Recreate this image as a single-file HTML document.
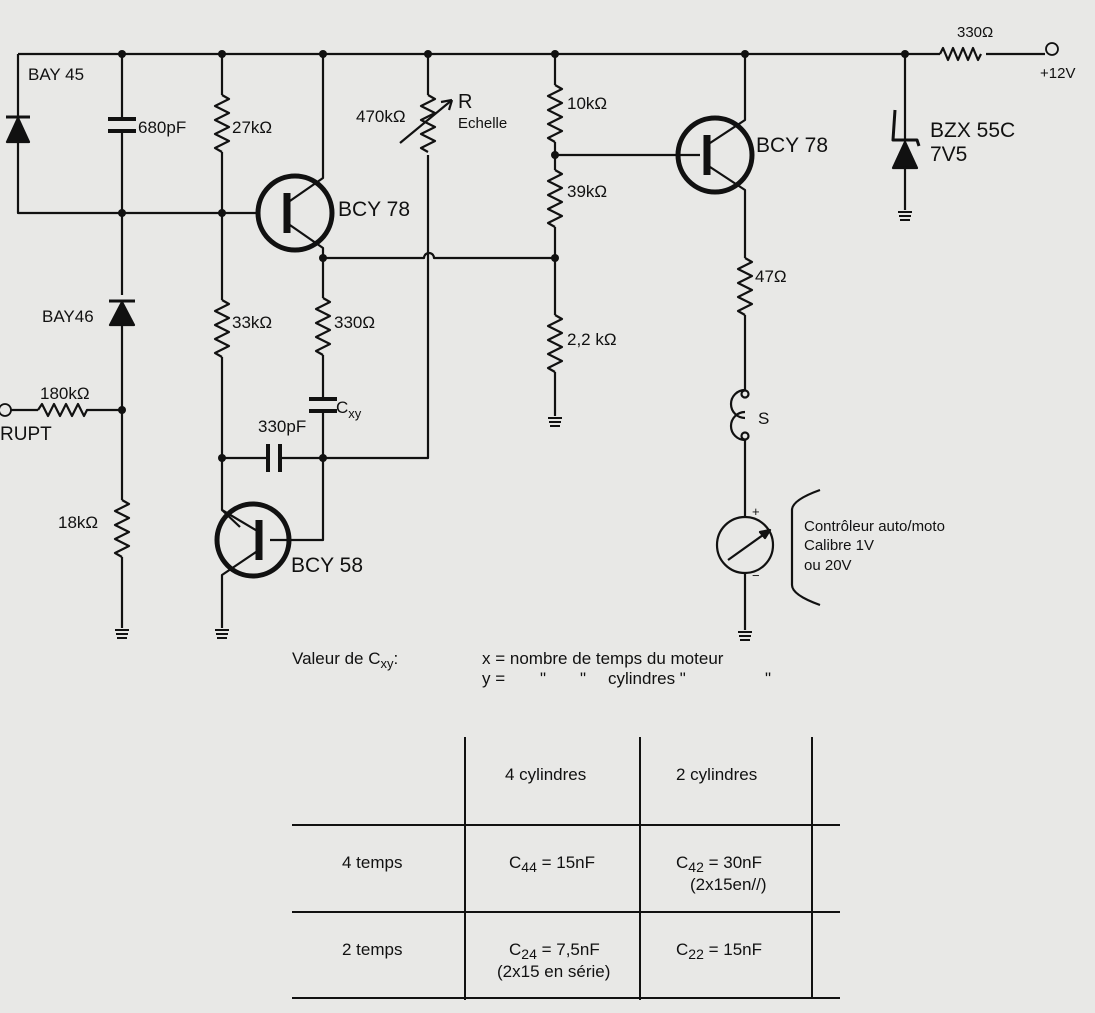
<!DOCTYPE html>
<html><head><meta charset="utf-8"><style>
html,body{margin:0;padding:0;background:#e8e8e6;}
svg{display:block}
text{font-family:"Liberation Sans",sans-serif;fill:#111;}
</style></head><body>
<svg width="1095" height="1013" viewBox="0 0 1095 1013" xmlns="http://www.w3.org/2000/svg">
<rect width="1095" height="1013" fill="#e8e8e6"/>
<g stroke="#111" stroke-width="2.2" fill="none" stroke-linejoin="round">
<path d="M18 54 H940"/>
<path d="M940 54 l3 -6 l5 12 l5 -12 l5 12 l5 -12 l5 12 l5 -12 l5 12 l3 -6"/>
<path d="M986 54 H1045"/>
<circle cx="1052" cy="49" r="6" stroke-width="1.8"/>
<path d="M18 54 V213 H258"/>
<path d="M7 142 H29 L18 118 Z" fill="#111"/><path d="M6 117 H30" stroke-width="3"/>
<path d="M122 54 V119 M122 131 V295"/>
<path d="M108 119 H136 M108 131 H136" stroke-width="4"/>
<path d="M110 325 H134 L122 302 Z" fill="#111"/><path d="M109 301 H135" stroke-width="3"/>
<path d="M122 325 V500"/>
<path d="M122 500 l7 4 l-14 7 l14 7 l-14 7 l14 7 l-14 7 l14 7 l-14 7 l7 4"/>
<path d="M122 557 V628"/>
<path d="M11 410 H38"/>
<circle cx="5" cy="410" r="6" stroke-width="1.8"/>
<path d="M38 410 l4 -6 l6 12 l6 -12 l6 12 l6 -12 l6 12 l6 -12 l6 12 l3 -6 H122"/>
<path d="M222 54 V95"/>
<path d="M222 95 l7 4 l-14 7 l14 7 l-14 7 l14 7 l-14 7 l14 7 l-14 7 l7 4"/>
<path d="M222 152 V300"/>
<path d="M222 300 l7 4 l-14 7 l14 7 l-14 7 l14 7 l-14 7 l14 7 l-14 7 l7 4"/>
<path d="M222 357 V458 H268 M280 458 H428 V155"/>
<path d="M268 444 V472 M280 444 V472" stroke-width="4"/>
<path d="M222 458 V510 L240 527"/>
<circle cx="295" cy="213" r="37" stroke-width="5"/>
<path d="M287 193 V233" stroke-width="7"/>
<path d="M287 203 L323 178 V54 M287 223 L323 248 V258"/>
<path d="M323 258 H424 a5 5 0 0 1 10 0 H555"/>
<path d="M323 258 V298"/>
<path d="M323 298 l7 4 l-14 7 l14 7 l-14 7 l14 7 l-14 7 l14 7 l-14 7 l7 4"/>
<path d="M323 355 V399 M323 411 V540 H270"/>
<path d="M309 399 H337 M309 411 H337" stroke-width="4"/>
<circle cx="253" cy="540" r="36" stroke-width="5"/>
<path d="M259 520 V560" stroke-width="7"/>
<path d="M222 510 L259 532 M259 550 L222 575 V628"/>
<path d="M428 54 V95"/>
<path d="M428 95 l7 4 l-14 7 l14 7 l-14 7 l14 7 l-14 7 l14 7 l-14 7 l7 4"/>
<path d="M400 143 L452 100"/>
<path d="M452 100 l-11 2 M452 100 l-3 10"/>
<path d="M555 54 V85"/>
<path d="M555 85 l7 4 l-14 7 l14 7 l-14 7 l14 7 l-14 7 l14 7 l-14 7 l7 4"/>
<path d="M555 142 V170"/>
<path d="M555 170 l7 4 l-14 7 l14 7 l-14 7 l14 7 l-14 7 l14 7 l-14 7 l7 4"/>
<path d="M555 227 V315"/>
<path d="M555 315 l7 4 l-14 7 l14 7 l-14 7 l14 7 l-14 7 l14 7 l-14 7 l7 4"/>
<path d="M555 372 V416"/>
<path d="M555 155 H700"/>
<circle cx="715" cy="155" r="37" stroke-width="5"/>
<path d="M707 135 V175" stroke-width="7"/>
<path d="M707 145 L745 120 V54 M707 165 L745 190 V258"/>
<path d="M745 258 l7 4 l-14 7 l14 7 l-14 7 l14 7 l-14 7 l14 7 l-14 7 l7 4"/>
<path d="M745 315 V390"/>
<path d="M745 390 a7 7 0 0 0 0 28 M745 412 a7 7 0 0 0 0 28"/>
<circle cx="745" cy="394" r="3.5" fill="#e8e8e6"/><circle cx="745" cy="436" r="3.5" fill="#e8e8e6"/>
<path d="M745 440 V517 M745 573 V630"/>
<circle cx="745" cy="545" r="28"/>
<path d="M728 560 L770 530"/><path d="M770 530 l-10 2 l5 6 Z" fill="#111"/>
<path d="M820 490 Q792 500 792 510 V585 Q792 595 820 605"/>
<path d="M905 54 V105 M905 168 V210"/>
<path d="M893 168 H917 L905 142 Z" fill="#111"/><path d="M895 110 L893 140 H917 L919 146" stroke-width="3"/>
<path d="M905 140 V105"/>
<g stroke-width="2"><path d="M115 630 H129 M116 634 H128 M117 638 H127"/><path d="M215 630 H229 M216 634 H228 M217 638 H227"/><path d="M548 418 H562 M549 422 H561 M550 426 H560"/><path d="M738 632 H752 M739 636 H751 M740 640 H750"/><path d="M898 212 H912 M899 216 H911 M900 220 H910"/></g>
<path d="M465 737 V1000 M640 737 V1000 M812 737 V825 M292 825 H840 M292 912 H840 M292 998 H840 M812 825 V998" stroke-width="2"/>
</g>
<g fill="#111">
<circle cx="122" cy="54" r="4"/><circle cx="222" cy="54" r="4"/><circle cx="323" cy="54" r="4"/><circle cx="428" cy="54" r="4"/><circle cx="555" cy="54" r="4"/><circle cx="745" cy="54" r="4"/><circle cx="905" cy="54" r="4"/>
<circle cx="122" cy="213" r="4"/><circle cx="222" cy="213" r="4"/><circle cx="323" cy="258" r="4"/><circle cx="555" cy="258" r="4"/><circle cx="555" cy="155" r="4"/>
<circle cx="122" cy="410" r="4"/><circle cx="222" cy="458" r="4"/><circle cx="323" cy="458" r="4"/>
</g>
<g font-size="17">
<text x="28" y="80">BAY 45</text>
<text x="138" y="133">680pF</text>
<text x="232" y="133">27kΩ</text>
<text x="338" y="216" font-size="21">BCY 78</text>
<text x="356" y="122">470kΩ</text>
<text x="458" y="108" font-size="20">R</text>
<text x="458" y="128" font-size="15">Echelle</text>
<text x="567" y="109">10kΩ</text>
<text x="567" y="197">39kΩ</text>
<text x="567" y="345">2,2 kΩ</text>
<text x="756" y="152" font-size="21">BCY 78</text>
<text x="930" y="137" font-size="21">BZX 55C</text>
<text x="930" y="161" font-size="21">7V5</text>
<text x="957" y="37" font-size="15">330Ω</text>
<text x="1040" y="78" font-size="15">+12V</text>
<text x="42" y="322">BAY46</text>
<text x="232" y="328">33kΩ</text>
<text x="334" y="328">330Ω</text>
<text x="40" y="399">180kΩ</text>
<text x="0" y="440" font-size="19">RUPT</text>
<text x="336" y="413">C<tspan font-size="13" dy="5">xy</tspan></text>
<text x="258" y="432">330pF</text>
<text x="58" y="528">18kΩ</text>
<text x="291" y="572" font-size="21">BCY 58</text>
<text x="755" y="282">47Ω</text>
<text x="758" y="424">S</text>
<text x="752" y="516" font-size="13">+</text>
<text x="752" y="580" font-size="13">−</text>
<text x="804" y="531" font-size="15">Contrôleur auto/moto</text>
<text x="804" y="550" font-size="15">Calibre 1V</text>
<text x="804" y="570" font-size="15">ou 20V</text>
<text x="292" y="664">Valeur de C<tspan font-size="13" dy="4">xy</tspan><tspan dy="-4">:</tspan></text>
<text x="482" y="664">x = nombre de temps du moteur</text>
<text x="482" y="684">y =</text>
<text x="540" y="684">"</text>
<text x="580" y="684">"</text>
<text x="608" y="684">cylindres "</text>
<text x="765" y="684">"</text>
<text x="505" y="780">4 cylindres</text>
<text x="676" y="780">2 cylindres</text>
<text x="342" y="868">4 temps</text>
<text x="342" y="955">2 temps</text>
<text x="509" y="868">C<tspan font-size="14" dy="4">44</tspan><tspan dy="-4"> = 15nF</tspan></text>
<text x="676" y="868">C<tspan font-size="14" dy="4">42</tspan><tspan dy="-4"> = 30nF</tspan></text>
<text x="690" y="890">(2x15en//)</text>
<text x="509" y="955">C<tspan font-size="14" dy="4">24</tspan><tspan dy="-4"> = 7,5nF</tspan></text>
<text x="497" y="977">(2x15 en série)</text>
<text x="676" y="955">C<tspan font-size="14" dy="4">22</tspan><tspan dy="-4"> = 15nF</tspan></text>
</g>
</svg>
</body></html>
